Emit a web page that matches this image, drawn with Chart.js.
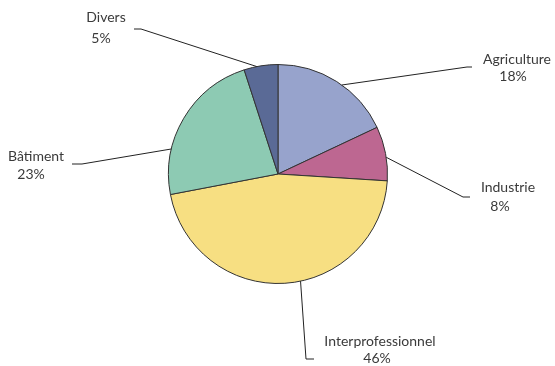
<!DOCTYPE html>
<html>
<head>
<meta charset="utf-8">
<script src="https://cdn.jsdelivr.net/npm/chart.js@4/dist/chart.umd.min.js"></script>
<style>
  html, body { margin: 0; padding: 0; background: #fff; }
  #wrap { width: 555px; height: 366px; }
</style>
</head>
<body>
<div id="wrap"><canvas id="myChart" width="555" height="366"></canvas></div>
<script>
// data
const categories = ["Agriculture", "Industrie", "Interprofessionnel", "Bâtiment", "Divers"];
const shares = [18, 8, 46, 23, 5];
const sliceColors = ["#97a3cc", "#bd6791", "#f7df82", "#8dcab3", "#5a6a96"];

// where each leader line leaves the slice (fraction of slice), elbow, end and text spots
const callouts = [
  { t: 0.55, elbow: [467, 67], end: [472, 67], text: [517, 59], pct: [513, 76] },
  { t: 0.57, elbow: [463, 197], end: [470, 197], text: [508, 187], pct: [500, 206] },
  { t: 0.45, elbow: [306, 359], end: [314, 359], text: [380, 341], pct: [377, 358] },
  { t: 0.29, elbow: [82, 164], end: [72, 164], text: [36, 156], pct: [31, 174] },
  { t: 0.38, elbow: [141, 29], end: [134, 29], text: [106, 17], pct: [101, 38] }
];

const calloutPlugin = {
  id: "callouts",
  afterDatasetsDraw(chart) {
    const ctx = chart.ctx;
    const arcs = chart.getDatasetMeta(0).data;
    ctx.save();
    arcs.forEach((arc, i) => {
      const c = callouts[i];
      const a = arc.startAngle + (arc.endAngle - arc.startAngle) * c.t;
      const x0 = arc.x + Math.cos(a) * arc.outerRadius;
      const y0 = arc.y + Math.sin(a) * arc.outerRadius;
      ctx.strokeStyle = "#222";
      ctx.lineWidth = 1;
      ctx.beginPath();
      ctx.moveTo(x0, y0);
      ctx.lineTo(c.elbow[0], c.elbow[1]);
      ctx.lineTo(c.end[0], c.end[1]);
      ctx.stroke();
      ctx.fillStyle = "#3a3a3a";
      ctx.font = "14px Lato";
      ctx.textAlign = "center";
      ctx.textBaseline = "middle";
      ctx.fillText(categories[i], c.text[0], c.text[1]);
      ctx.fillText(shares[i] + "%", c.pct[0], c.pct[1]);
    });
    ctx.restore();
  }
};

var ctx = document.getElementById("myChart").getContext("2d");
var myChart = new Chart(ctx, {
  type: "pie",
  data: {
    labels: categories,
    datasets: [
      {
        data: shares,
        backgroundColor: sliceColors,
        borderColor: "#333",
        borderWidth: 1,
      },
    ],
  },
  options: {
    responsive: false,
    animation: false,
    layout: { padding: { top: 64, bottom: 82, left: 168, right: 167 } },
    plugins: {
      legend: { display: false },
      tooltip: { enabled: false },
    },
  },
  plugins: [calloutPlugin],
});
</script>
</body>
</html>
